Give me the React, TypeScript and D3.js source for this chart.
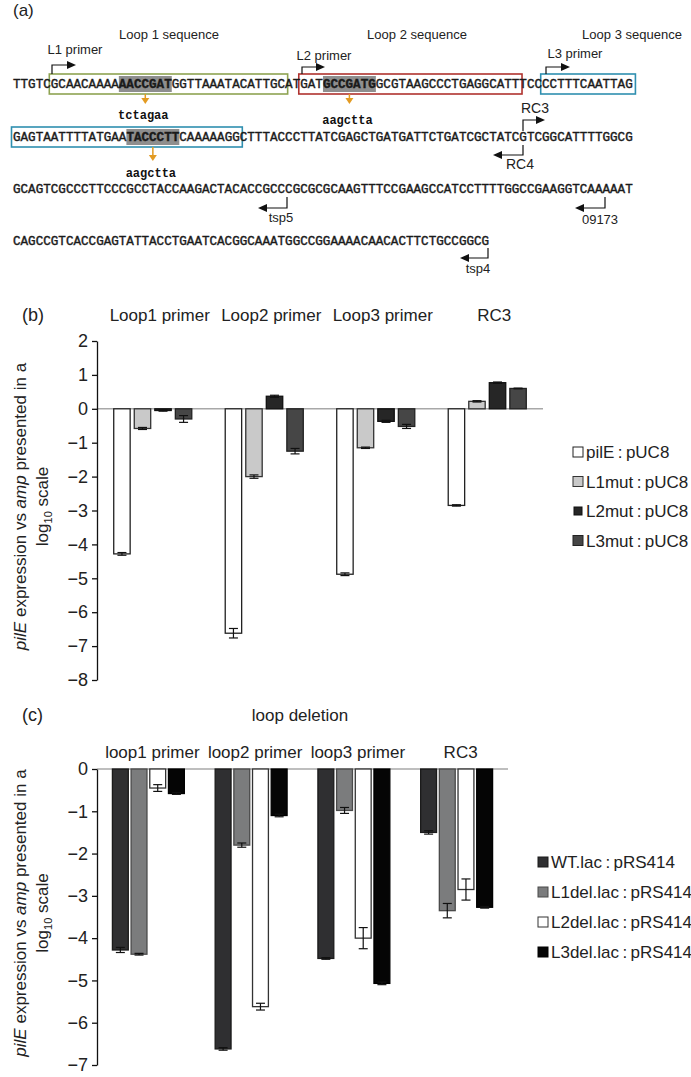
import React, { useEffect, useRef } from 'react';
import * as d3 from 'd3';

const W = 691;
const H = 1077;
const sans = '"Liberation Sans", Arial, Helvetica, sans-serif';
const mono = '"Liberation Mono", "Courier New", monospace';

// ---------- panel (a): sequence ----------
const seqLines = [
  'TTGTC' + 'GCAACAAAA' + 'AACCGAT' + 'GGTTAAATACATTGC' + 'AT' + 'GAT' + 'GCCGATG' + 'GCGTAAGCCCTGAGGCATT' + 'TCC' + 'CCTTTCAATTAG',
  'GAGTAATTTTATGAA' + 'TACCCTT' + 'CAAAAAGG' + 'CTTTACCCTTATCGAGCTGATGATTCTGATCGCTATCGTCGGCATTTTGGCG',
  'GCAGTCGCCCTTCCCGCCTACCAAGACTACACCGCCCGCGCGCAAGTTTCCGAAGCCATCCTTTTGGCCGAAGGTCAAAAAT',
  'CAGCCGTCACCGAGTATTACCTGAATCACGGCAAATGGCCGGAAAACAACACTTCTGCCGGCG',
];
const seqBoxes = [
  { line: 0, from: 5, to: 36, color: '#8ea352' },
  { line: 0, from: 38, to: 67, color: '#b0332f' },
  { line: 0, from: 70, to: 82, color: '#2f8fb0' },
  { line: 1, from: 0, to: 30, color: '#2f8fb0' },
];
const seqHighlights = [
  { line: 0, from: 14, to: 21, site: 'tctagaa' },
  { line: 0, from: 41, to: 48, site: 'aagctta' },
  { line: 1, from: 15, to: 22, site: 'aagctta' },
];
const loopTitles = ['Loop 1 sequence', 'Loop 2 sequence', 'Loop 3 sequence'];
const fwdPrimers = ['L1 primer', 'L2 primer', 'L3 primer', 'RC3'];
const revPrimers = ['RC4', 'tsp5', '09173', 'tsp4'];

// ---------- panel (b): loop mutations ----------
const mutGroups = ['Loop1 primer', 'Loop2 primer', 'Loop3 primer', 'RC3'];
const mutSeries = ['pilE\u2009:\u2009pUC8', 'L1mut\u2009:\u2009pUC8', 'L2mut\u2009:\u2009pUC8', 'L3mut\u2009:\u2009pUC8'];
const mutValues = [
  [-4.28, -6.62, -4.88, -2.85],
  [-0.58, -2.0, -1.15, 0.22],
  [-0.05, 0.37, -0.37, 0.77],
  [-0.3, -1.25, -0.52, 0.6],
];
const mutErrors = [
  [0.04, 0.14, 0.04, 0.02],
  [0.03, 0.05, 0.02, 0.02],
  [0.02, 0.03, 0.03, 0.02],
  [0.1, 0.08, 0.06, 0.01],
];
const mutTicks = [2, 1, 0, -1, -2, -3, -4, -5, -6, -7, -8];

// ---------- panel (c): loop deletions ----------
const delGroups = ['loop1 primer', 'loop2 primer', 'loop3 primer', 'RC3'];
const delSeries = ['WT.lac\u2009:\u2009pRS414', 'L1del.lac\u2009:\u2009pRS414', 'L2del.lac\u2009:\u2009pRS414', 'L3del.lac\u2009:\u2009pRS414'];
const delValues = [
  [-4.28, -6.62, -4.48, -1.5],
  [-4.38, -1.8, -0.98, -3.35],
  [-0.45, -5.62, -4.0, -2.85],
  [-0.58, -1.1, -5.07, -3.27],
];
const delErrors = [
  [0.06, 0.03, 0.02, 0.04],
  [0.02, 0.05, 0.07, 0.17],
  [0.08, 0.08, 0.25, 0.25],
  [0.02, 0.03, 0.03, 0.02],
];
const delTicks = [0, -1, -2, -3, -4, -5, -6, -7];

function drawSequence(svg) {
  const g = svg.append('g');
  const x0 = 13;
  const cw = 7.56;
  const fs = cw / 0.6;
  const lineY = [84, 137, 189, 241];
  const cx = (i: number) => x0 + i * cw;

  g.append('text').attr('x', 13).attr('y', 16).attr('font-family', sans)
    .attr('font-size', 17).attr('fill', '#222').text('(a)');

  // loop titles above the boxes
  var titleX = [169, 417, 632];
  loopTitles.forEach((t, i) => {
    g.append('text').attr('x', titleX[i]).attr('y', 39).attr('text-anchor', 'middle')
      .attr('font-family', sans).attr('font-size', 13).attr('fill', '#222').text(t);
  });

  seqHighlights.forEach(h => {
    g.append('rect').attr('x', cx(h.from)).attr('y', lineY[h.line] - 8)
      .attr('width', (h.to - h.from) * cw).attr('height', 16).attr('fill', '#8e8e8e');
  });

  seqBoxes.forEach(b => {
    g.append('rect').attr('x', cx(b.from) - 1.5).attr('y', lineY[b.line] - 10)
      .attr('width', (b.to - b.from) * cw + 4).attr('height', 20)
      .attr('fill', 'none').attr('stroke', b.color).attr('stroke-width', 1.6);
  });

  seqLines.forEach((s, li) => {
    const hs = seqHighlights.filter(h => h.line === li).sort((a, b) => a.from - b.from);
    const parts: { t: string; bold: boolean }[] = [];
    let pos = 0;
    hs.forEach(h => {
      if (h.from > pos) parts.push({ t: s.slice(pos, h.from), bold: false });
      parts.push({ t: s.slice(h.from, h.to), bold: true });
      pos = h.to;
    });
    if (pos < s.length) parts.push({ t: s.slice(pos), bold: false });
    const txt = g.append('text').attr('x', x0).attr('y', lineY[li] + 4.3)
      .attr('font-family', mono).attr('font-size', fs).attr('fill', '#1a1a1a')
      .attr('stroke', '#1a1a1a').attr('stroke-width', 0.4)
      .style('white-space', 'pre');
    parts.forEach(p => {
      txt.append('tspan').attr('font-weight', p.bold ? 'bold' : 'normal').text(p.t);
    });
  });

  // orange arrows to restriction sites
  var siteY = [115, 120, 173];
  seqHighlights.forEach((h, i) => {
    const ax = (cx(h.from) + cx(h.to)) / 2;
    const yTop = lineY[h.line] + 10;
    const yTip = i === 2 ? yTop + 14 : yTop + 10;
    g.append('line').attr('x1', ax).attr('x2', ax).attr('y1', yTop).attr('y2', yTip - 5)
      .attr('stroke', '#e39b22').attr('stroke-width', 1.5);
    g.append('path').attr('d', `M${ax - 4},${yTip - 6}L${ax + 4},${yTip - 6}L${ax},${yTip}Z`).attr('fill', '#e39b22');
    g.append('text').attr('x', ax - 2).attr('y', siteY[i] + 4).attr('text-anchor', 'middle')
      .attr('font-family', mono).attr('font-weight', 'bold').attr('font-size', 12)
      .attr('fill', '#111').text(h.site);
  });

  // forward primer brackets
  var fwd = [
    { x: 52, y0: 74, y1: 65, x1: 76, lx: 75, ly: 49 },
    { x: 302, y0: 74, y1: 67, x1: 325, lx: 324, ly: 55 },
    { x: 546, y0: 74, y1: 67, x1: 570, lx: 575, ly: 53 },
    { x: 523, y0: 131, y1: 120, x1: 545, lx: 535, ly: 108 },
  ];
  fwd.forEach((p, i) => {
    g.append('path').attr('d', `M${p.x},${p.y0}V${p.y1}H${p.x1 - 7}`)
      .attr('fill', 'none').attr('stroke', '#111').attr('stroke-width', 1.2);
    g.append('path').attr('d', `M${p.x1 - 9},${p.y1 - 4}L${p.x1},${p.y1}L${p.x1 - 9},${p.y1 + 4}Z`).attr('fill', '#111');
    g.append('text').attr('x', p.lx).attr('y', p.ly + 5).attr('text-anchor', 'middle')
      .attr('font-family', sans).attr('font-size', i === 3 ? 14 : 13).attr('fill', '#222').text(fwdPrimers[i]);
  });

  // reverse primer brackets
  var rev = [
    { x: 523, y0: 145, y1: 155, x1: 493, lx: 520, ly: 164 },
    { x: 287, y0: 197, y1: 208, x1: 258, lx: 281, ly: 217 },
    { x: 605, y0: 197, y1: 208, x1: 575, lx: 600, ly: 219 },
    { x: 488, y0: 248, y1: 258, x1: 460, lx: 478, ly: 268 },
  ];
  rev.forEach((p, i) => {
    g.append('path').attr('d', `M${p.x},${p.y0}V${p.y1}H${p.x1 + 7}`)
      .attr('fill', 'none').attr('stroke', '#111').attr('stroke-width', 1.2);
    g.append('path').attr('d', `M${p.x1 + 9},${p.y1 - 4}L${p.x1},${p.y1}L${p.x1 + 9},${p.y1 + 4}Z`).attr('fill', '#111');
    g.append('text').attr('x', p.lx).attr('y', p.ly + 5).attr('text-anchor', 'middle')
      .attr('font-family', sans).attr('font-size', i === 0 ? 14 : 13).attr('fill', '#222').text(revPrimers[i]);
  });
}

function drawBarPanel(svg, o) {
  const g = svg.append('g');

  var y = d3.scaleLinear().domain(o.domain).range(o.yRange);
  var x0 = d3.scaleBand().domain(o.groups).range(o.xRange).paddingInner(0.3).paddingOuter(0.15);
  var x1 = d3.scaleBand().domain(o.series).range([0, x0.bandwidth()]).paddingInner(o.innerPad);

  // panel letter and titles
  g.append('text').attr('x', 22).attr('y', o.letterY + 6).attr('font-family', sans)
    .attr('font-size', 18).attr('fill', '#222').text(o.letter);
  if (o.heading) {
    g.append('text').attr('x', o.heading.x).attr('y', o.heading.y + 6).attr('text-anchor', 'middle')
      .attr('font-family', sans).attr('font-size', 17).attr('fill', '#222').text(o.heading.text);
  }
  g.selectAll('.gtitle').data(o.groups).enter().append('text')
    .attr('x', d => x0(d) + x0.bandwidth() / 2 + o.titleDx)
    .attr('y', o.titleY + 6)
    .attr('text-anchor', 'middle').attr('font-family', sans).attr('font-size', 17)
    .attr('fill', '#222').style('white-space', 'pre').text(d => d);

  // zero line
  g.append('line').attr('x1', o.xRange[0]).attr('x2', o.xRange[1])
    .attr('y1', y(0)).attr('y2', y(0)).attr('stroke', '#a8a8a8').attr('stroke-width', 1.6);

  // bars
  o.series.forEach((s, si) => {
    o.groups.forEach((gr, gi) => {
      const v = o.values[si][gi];
      const e = o.errors[si][gi];
      const bx = x0(gr) + x1(s);
      const bw = x1.bandwidth();
      g.append('rect').attr('x', bx).attr('y', Math.min(y(v), y(0)))
        .attr('width', bw).attr('height', Math.abs(y(v) - y(0)))
        .attr('fill', o.colors[si]).attr('stroke', o.strokes[si]).attr('stroke-width', 1.3);
      const mx = bx + bw / 2;
      g.append('line').attr('x1', mx).attr('x2', mx).attr('y1', y(v - e)).attr('y2', y(v + e))
        .attr('stroke', '#111').attr('stroke-width', 1.2);
      [v - e, v + e].forEach(t => {
        g.append('line').attr('x1', mx - 4.5).attr('x2', mx + 4.5).attr('y1', y(t)).attr('y2', y(t))
          .attr('stroke', '#111').attr('stroke-width', 1.2);
      });
    });
  });

  // y axis
  var axis = d3.axisLeft(y).tickValues(o.ticks).tickSize(5).tickSizeOuter(0).tickPadding(4)
    .tickFormat(d3.format('d'));
  var ax = g.append('g').attr('transform', `translate(${o.xRange[0]},0)`).call(axis);
  ax.select('.domain').attr('stroke', '#111').attr('stroke-width', 1.3);
  ax.selectAll('.tick line').attr('stroke', '#111').attr('stroke-width', 1.3);
  ax.selectAll('.tick text').attr('font-family', sans).attr('font-size', 18).attr('fill', '#222');

  // y label
  const cy = (o.yRange[0] + o.yRange[1]) / 2 - 4;
  const l1 = g.append('text').attr('transform', `translate(26,${cy}) rotate(-90)`)
    .attr('text-anchor', 'middle').attr('font-family', sans).attr('font-size', 17).attr('fill', '#222');
  l1.append('tspan').attr('font-style', 'italic').text('pilE');
  l1.append('tspan').text(' expression vs ');
  l1.append('tspan').attr('font-style', 'italic').text('amp');
  l1.append('tspan').text(' presented in a');
  const l2 = g.append('text').attr('transform', `translate(48,${cy}) rotate(-90)`)
    .attr('text-anchor', 'middle').attr('font-family', sans).attr('font-size', 17).attr('fill', '#222');
  l2.append('tspan').text('log');
  l2.append('tspan').attr('font-size', 11).attr('dy', 4).text('10');
  l2.append('tspan').attr('dy', -4).text(' scale');

  // legend
  o.series.forEach((s, si) => {
    const ly = o.legendY + si * o.legendStep;
    const sz = o.legendSizes[si];
    g.append('rect').attr('x', o.legendX + (10 - sz) / 2).attr('y', ly - sz / 2)
      .attr('width', sz).attr('height', sz).attr('fill', o.colors[si])
      .attr('stroke', o.strokes[si]).attr('stroke-width', 1);
    g.append('text').attr('x', o.legendX + 13).attr('y', ly + 6).attr('font-family', sans)
      .attr('font-size', 17).attr('fill', '#222').text(s);
  });
}

export default function App() {
  const ref = useRef<SVGSVGElement>(null);

  useEffect(() => {
    const svg = d3.select(ref.current);
    svg.selectAll('*').remove();

    drawSequence(svg);

    drawBarPanel(svg, {
      letter: '(b)', letterY: 315,
      groups: mutGroups, series: mutSeries, values: mutValues, errors: mutErrors,
      colors: ['#ffffff', '#c9c9c9', '#262626', '#464646'],
      strokes: ['#222', '#333', '#111', '#222'],
      domain: [-8, 2], yRange: [680, 341], xRange: [97, 543], innerPad: 0.2,
      ticks: mutTicks, titleY: 315, titleDx: 7,
      legendX: 573, legendY: 452, legendStep: 29.5, legendSizes: [10, 10, 8, 10],
    });

    drawBarPanel(svg, {
      letter: '(c)', letterY: 715,
      heading: { text: 'loop deletion', x: 300, y: 715 },
      groups: delGroups, series: delSeries, values: delValues, errors: delErrors,
      colors: ['#2f2f31', '#7b7c7d', '#ffffff', '#050505'],
      strokes: ['#1a1a1a', '#4a4a4a', '#333', '#000'],
      domain: [-7, 0], yRange: [1065, 769], xRange: [97, 508], innerPad: 0.15,
      ticks: delTicks, titleY: 752, titleDx: 4,
      legendX: 538, legendY: 862, legendStep: 30, legendSizes: [10, 10, 10, 10],
    });
  }, []);

  return (
    <div style={{ position: 'absolute', left: 0, top: 0 }}>
      <svg ref={ref} width={W} height={H} style={{ display: 'block', background: '#fff' }} />
    </div>
  );
}
